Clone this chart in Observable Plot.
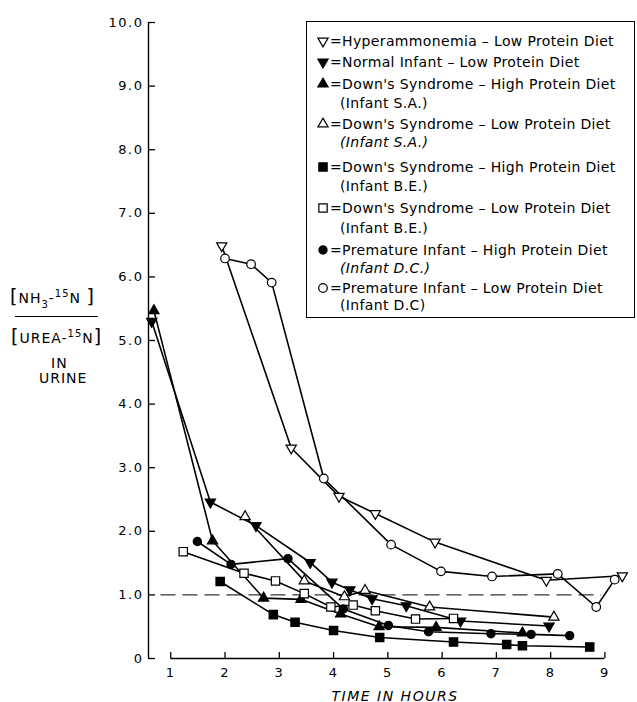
<!DOCTYPE html>
<html>
<head>
<meta charset="utf-8">
<script src="https://cdn.jsdelivr.net/npm/d3@7"></script>
<script src="https://cdn.jsdelivr.net/npm/@observablehq/plot@0.6"></script>
<style>
  body { margin: 0; background: #fff; }
  #wrap { position: relative; width: 637px; height: 702px; font-family: "DejaVu Sans", sans-serif; color: #000; overflow: hidden; }
  #wrap svg { position: absolute; left: 0; top: 0; }
  #legend { position: absolute; left: 306px; top: 21px; width: 327px; height: 295px; border: 1.5px solid #000; background: #fff; }
  .lrow { position: absolute; font-size: 14px; letter-spacing: 0.35px; line-height: 16px; white-space: nowrap; }
  .yl { position: absolute; font-size: 14px; letter-spacing: 1px; line-height: 16px; white-space: nowrap; }
  .yl2 { position: absolute; font-size: 14px; letter-spacing: 1px; line-height: 14px; white-space: nowrap; }
  .br { font-size: 19px; }
  .sub { font-size: 10px; position: relative; top: 5px; }
  .sup { font-size: 10px; position: relative; top: -6px; }
  .bar { position: absolute; height: 0; border-top: 1.5px solid #000; }
</style>
</head>
<body>
<div id="wrap"></div>
<script>
// ---- data ----
const seriesNames = [
  "Hyperammonemia – Low Protein Diet",
  "Normal Infant – Low Protein Diet",
  "Down's Syndrome – High Protein Diet (Infant S.A.)",
  "Down's Syndrome – Low Protein Diet (Infant S.A.)",
  "Down's Syndrome – High Protein Diet (Infant B.E.)",
  "Down's Syndrome – Low Protein Diet (Infant B.E.)",
  "Premature Infant – High Protein Diet (Infant D.C.)",
  "Premature Infant – Low Protein Diet (Infant D.C)"
];
const hyperT   = [1.94, 3.22, 4.10, 4.77, 5.87, 7.92, 9.32];
const hyperV   = [6.49, 3.31, 2.55, 2.28, 1.83, 1.23, 1.30];
const normalT  = [0.65, 1.73, 2.57, 3.57, 3.97, 4.30, 4.71, 5.34, 6.34, 7.97];
const normalV  = [5.30, 2.46, 2.09, 1.51, 1.20, 1.08, 0.94, 0.83, 0.59, 0.51];
const dsHighSAT = [0.69, 1.77, 2.71, 3.40, 4.13, 4.84, 5.89, 7.48];
const dsHighSAV = [5.47, 1.85, 0.95, 0.93, 0.70, 0.50, 0.49, 0.40];
const dsLowSAT  = [2.37, 3.46, 4.20, 4.58, 5.77, 8.06];
const dsLowSAV  = [2.23, 1.22, 0.97, 1.07, 0.81, 0.65];
const dsHighBET = [1.91, 2.89, 3.29, 4.00, 4.85, 6.21, 7.19, 7.48, 8.72];
const dsHighBEV = [1.21, 0.69, 0.57, 0.44, 0.33, 0.26, 0.22, 0.20, 0.18];
const dsLowBET  = [1.23, 2.35, 2.93, 3.46, 3.95, 4.36, 4.77, 5.51, 6.21];
const dsLowBEV  = [1.68, 1.34, 1.22, 1.02, 0.81, 0.84, 0.75, 0.62, 0.63];
const premHighT = [1.49, 2.11, 3.16, 4.18, 5.01, 5.75, 6.90, 7.64, 8.35];
const premHighV = [1.84, 1.48, 1.57, 0.78, 0.52, 0.42, 0.39, 0.38, 0.36];
const premLowT  = [2.00, 2.48, 2.86, 3.82, 5.06, 5.98, 6.92, 8.13, 8.84, 9.18];
const premLowV  = [6.29, 6.20, 5.91, 2.83, 1.79, 1.37, 1.29, 1.33, 0.81, 1.24];

const xTicks = [1, 2, 3, 4, 5, 6, 7, 8, 9];
const xTickLabels = ["1", "2", "3", "4", "5", "6", "7", "8", "9"];
const yTicks = [0, 1, 2, 3, 4, 5, 6, 7, 8, 9, 10];
const yTickLabels = ["0", "1.0", "2.0", "3.0", "4.0", "5.0", "6.0", "7.0", "8.0", "9.0", "10.0"];
const referenceLevel = [1];
const xTitle = "TIME IN HOURS";

const legendMain = [
  "Hyperammonemia – Low Protein Diet",
  "Normal Infant – Low Protein Diet",
  "Down's Syndrome – High Protein Diet",
  "Down's Syndrome – Low Protein Diet",
  "Down's Syndrome – High Protein Diet",
  "Down's Syndrome – Low Protein Diet",
  "Premature Infant – High Protein Diet",
  "Premature Infant – Low Protein Diet"
];
const legendSub = ["", "", "(Infant S.A.)", "(Infant S.A.)", "(Infant B.E.)", "(Infant B.E.)", "(Infant D.C.)", "(Infant D.C)"];

// ---- styles (not data) ----
const markerStyles = [
  {symbol: "triangle", rotate: 180, fill: "white", r: 3.8},
  {symbol: "triangle", rotate: 180, fill: "black", r: 3.8},
  {symbol: "triangle", rotate: 0,   fill: "black", r: 3.8},
  {symbol: "triangle", rotate: 0,   fill: "white", r: 3.8},
  {symbol: "square",   rotate: 0,   fill: "black", r: 4.7},
  {symbol: "square",   rotate: 0,   fill: "white", r: 4.7},
  {symbol: "circle",   rotate: 0,   fill: "black", r: 4.1},
  {symbol: "circle",   rotate: 0,   fill: "white", r: 4.3}
];
const mainY = [40, 61, 83, 123, 166, 207, 249, 287];
const subY  = [null, null, 102, 141, 185, 227, 267, 304];
const subItalic = [false, false, false, true, false, false, true, false];

const seriesT = [hyperT, normalT, dsHighSAT, dsLowSAT, dsHighBET, dsLowBET, premHighT, premLowT];
const seriesV = [hyperV, normalV, dsHighSAV, dsLowSAV, dsHighBEV, dsLowBEV, premHighV, premLowV];
const rows = [];
seriesNames.forEach((name, k) => seriesT[k].forEach((t, i) => rows.push({series: name, k, t, v: seriesV[k][i]})));

const W = 637, H = 702, mL = 148, mR = 0, mT = 22, mB = 44;
const xDom = [0.59, 9.6], yDom = [0, 10];
const pxX = (W - mL - mR) / (xDom[1] - xDom[0]);
const pxY = (H - mT - mB) / (yDom[1] - yDom[0]);

const dotMarks = markerStyles.map((s, k) => Plot.dot(rows.filter(d => d.k === k), {
  x: "t", y: "v", symbol: s.symbol, rotate: s.rotate, fill: s.fill, r: s.r,
  stroke: "black", strokeWidth: 1.2
}));

const chart = Plot.plot({
  width: W, height: H,
  marginLeft: mL, marginRight: mR, marginTop: mT, marginBottom: mB,
  x: {domain: xDom},
  y: {domain: yDom},
  style: {fontFamily: "DejaVu Sans", fontSize: "13px", background: "transparent", letterSpacing: "1.5px", color: "black"},
  marks: [
    Plot.ruleX([xDom[0]], {y1: 0, y2: 10, stroke: "black", strokeWidth: 1.4}),
    Plot.ruleY(yTicks, {x1: xDom[0], x2: xDom[0] + 7 / pxX, stroke: "black", strokeWidth: 1.3}),
    Plot.ruleY([0], {x1: xTicks[0], x2: xTicks[xTicks.length - 1], stroke: "black", strokeWidth: 1.3}),
    Plot.ruleX(xTicks, {y1: 0, y2: 6 / pxY, stroke: "black", strokeWidth: 1.3}),
    Plot.axisY(yTicks, {tickSize: 0, tickPadding: 5, label: null, tickFormat: d => yTickLabels[yTicks.indexOf(d)], fontSize: 13}),
    Plot.axisX(xTicks, {tickSize: 0, tickPadding: 9, label: null, tickFormat: d => xTickLabels[xTicks.indexOf(d)], fontSize: 13}),
    Plot.text([xTitle], {frameAnchor: "bottom", dx: 2, dy: 42, lineAnchor: "bottom", fontStyle: "italic", fontSize: 14}),
    Plot.ruleY(referenceLevel, {x1: 0.82, x2: 8.94, stroke: "black", strokeWidth: 1, strokeDasharray: "15,7"}),
    Plot.line(rows, {x: "t", y: "v", z: "series", stroke: "black", strokeWidth: 1.6}),
    ...dotMarks
  ]
});

const wrap = document.getElementById("wrap");
wrap.appendChild(chart);

// ---- y-axis title ----
const yTitle = document.createElement("div");
yTitle.innerHTML = `
  <div class="yl" style="left:10px;top:288px"><span class="br">[</span>NH<span class="sub">3</span>-<span class="sup">15</span>N <span class="br">]</span></div>
  <div class="bar" style="left:15px;top:316px;width:83px"></div>
  <div class="yl" style="left:11px;top:328px"><span class="br">[</span>UREA-<span class="sup">15</span>N<span class="br">]</span></div>
  <div class="yl2" style="left:51px;top:356px">IN</div>
  <div class="yl2" style="left:39px;top:371px">URINE</div>`;
wrap.appendChild(yTitle);

// ---- legend ----
const legend = document.createElement("div");
legend.id = "legend";
wrap.appendChild(legend);
const lx = 306, ly = 21;
legendMain.forEach((txt, k) => {
  const s = markerStyles[k];
  const sym = s.symbol === "triangle" ? d3.symbolTriangle : s.symbol === "square" ? d3.symbolSquare : d3.symbolCircle;
  const path = d3.symbol(sym, Math.PI * s.r * s.r)();
  const svg = `<svg width="14" height="14" style="position:absolute;left:${322 - 7 - lx}px;top:${mainY[k] - 7 - ly}px;overflow:visible"><path d="${path}" transform="translate(7,7) rotate(${s.rotate})" fill="${s.fill}" stroke="black" stroke-width="1.2"/></svg>`;
  legend.insertAdjacentHTML("beforeend", svg);
  legend.insertAdjacentHTML("beforeend", `<div class="lrow" style="left:${329 - lx}px;top:${mainY[k] - 8 - ly}px">=${txt}</div>`);
  if (legendSub[k]) {
    legend.insertAdjacentHTML("beforeend", `<div class="lrow" style="left:${339 - lx}px;top:${subY[k] - 8 - ly}px;${subItalic[k] ? "font-style:italic;" : ""}">${legendSub[k]}</div>`);
  }
});
</script>
</body>
</html>
